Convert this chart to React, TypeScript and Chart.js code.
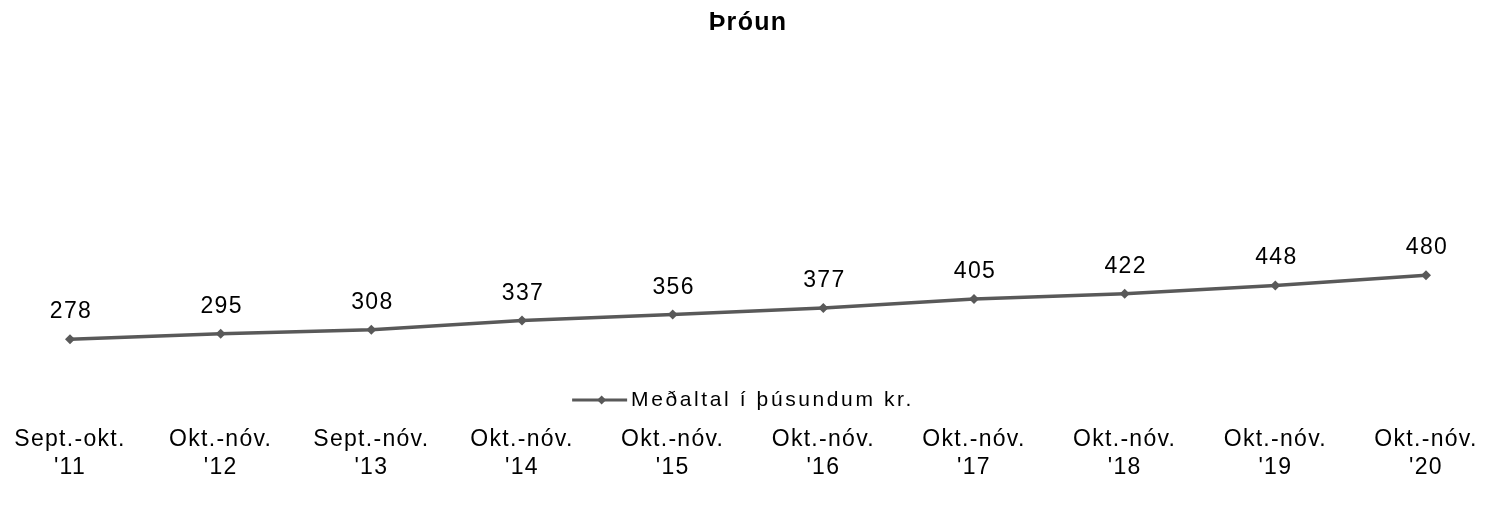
import React, { useEffect, useRef } from "react";
import { Chart, registerables } from "chart.js";

Chart.register(...registerables);

const periods = ["Sept.-okt.", "Okt.-nóv.", "Sept.-nóv.", "Okt.-nóv.", "Okt.-nóv.", "Okt.-nóv.", "Okt.-nóv.", "Okt.-nóv.", "Okt.-nóv.", "Okt.-nóv."];
const years = ["'11", "'12", "'13", "'14", "'15", "'16", "'17", "'18", "'19", "'20"];
const averages = [278, 295, 308, 337, 356, 377, 405, 422, 448, 480];
const seriesName = "Meðaltal í þúsundum kr.";
const chartTitle = "Þróun";

const FONT = "'Liberation Sans', Arial, sans-serif";
const LINE = "#595959";

const spacingPlugin = {
  id: "spacing",
  beforeDraw(chart: any) {
    chart.ctx.letterSpacing = "1.3px";
  },
};

const valueLabels = {
  id: "valueLabels",
  afterDatasetsDraw(chart: any) {
    const ctx = chart.ctx;
    const meta = chart.getDatasetMeta(0);
    ctx.save();
    ctx.letterSpacing = "1.3px";
    ctx.font = `23px ${FONT}`;
    ctx.fillStyle = "#000";
    ctx.textAlign = "center";
    ctx.textBaseline = "alphabetic";
    meta.data.forEach((pt: any, i: number) => {
      ctx.fillText(String(chart.data.datasets[0].data[i]), pt.x + 1, pt.y - 21);
    });
    ctx.restore();
  },
};

const midLegend = {
  id: "midLegend",
  afterDraw(chart: any) {
    const ctx = chart.ctx;
    ctx.save();
    ctx.letterSpacing = "2.6px";
    ctx.font = `21px ${FONT}`;
    const tw = ctx.measureText(seriesName).width;
    const lineLen = 55;
    const gap = 4;
    const total = lineLen + gap + tw;
    const x0 = chart.width / 2 - 10 - total / 2;
    const y = 400;
    ctx.strokeStyle = LINE;
    ctx.lineWidth = 3;
    ctx.beginPath();
    ctx.moveTo(x0, y);
    ctx.lineTo(x0 + lineLen, y);
    ctx.stroke();
    const cx = x0 + lineLen / 2 + 2;
    ctx.fillStyle = LINE;
    ctx.beginPath();
    ctx.moveTo(cx, y - 4.5);
    ctx.lineTo(cx + 4.5, y);
    ctx.lineTo(cx, y + 4.5);
    ctx.lineTo(cx - 4.5, y);
    ctx.closePath();
    ctx.fill();
    ctx.fillStyle = "#000";
    ctx.textAlign = "left";
    ctx.textBaseline = "middle";
    ctx.fillText(seriesName, x0 + lineLen + gap, y);
    ctx.restore();
  },
};

export default function App() {
  const ref = useRef<HTMLCanvasElement>(null);
  useEffect(() => {
    document.body.style.margin = "0";
    const chart = new Chart(ref.current!, {
      type: "line",
      data: {
        labels: periods.map((p, i) => [p, years[i]]),
        datasets: [
          {
            label: seriesName,
            data: averages,
            borderColor: LINE,
            backgroundColor: LINE,
            borderWidth: 3.5,
            pointStyle: "rectRot",
            pointRadius: 5,
            pointBackgroundColor: LINE,
            pointBorderColor: LINE,
            pointBorderWidth: 0,
            tension: 0,
          },
        ],
      },
      options: {
        responsive: false,
        animation: false,
        layout: { padding: { left: 70, right: 80, top: 0, bottom: 0 } },
        plugins: {
          legend: { display: false },
          tooltip: { enabled: false },
          title: {
            display: true,
            text: chartTitle,
            color: "#000",
            font: { family: FONT, size: 25, weight: "bold" },
            padding: { top: 8, bottom: 10 },
          },
        },
        scales: {
          x: {
            offset: false,
            grid: { display: false, drawTicks: false },
            border: { display: false },
            ticks: {
              color: "#000",
              font: { family: FONT, size: 23 },
              padding: 46,
              autoSkip: false,
              maxRotation: 0,
              minRotation: 0,
            },
            afterFit(scale: any) {
              scale.height = 126;
              scale.paddingLeft = 0;
              scale.paddingRight = 0;
            },
          },
          y: {
            display: false,
            min: 148.6,
            max: 1200,
          },
        },
      },
      plugins: [spacingPlugin, valueLabels, midLegend],
    });
    return () => chart.destroy();
  }, []);
  return (
    <div style={{ width: 1506, height: 506 }}>
      <canvas ref={ref} width={1506} height={506} />
    </div>
  );
}
